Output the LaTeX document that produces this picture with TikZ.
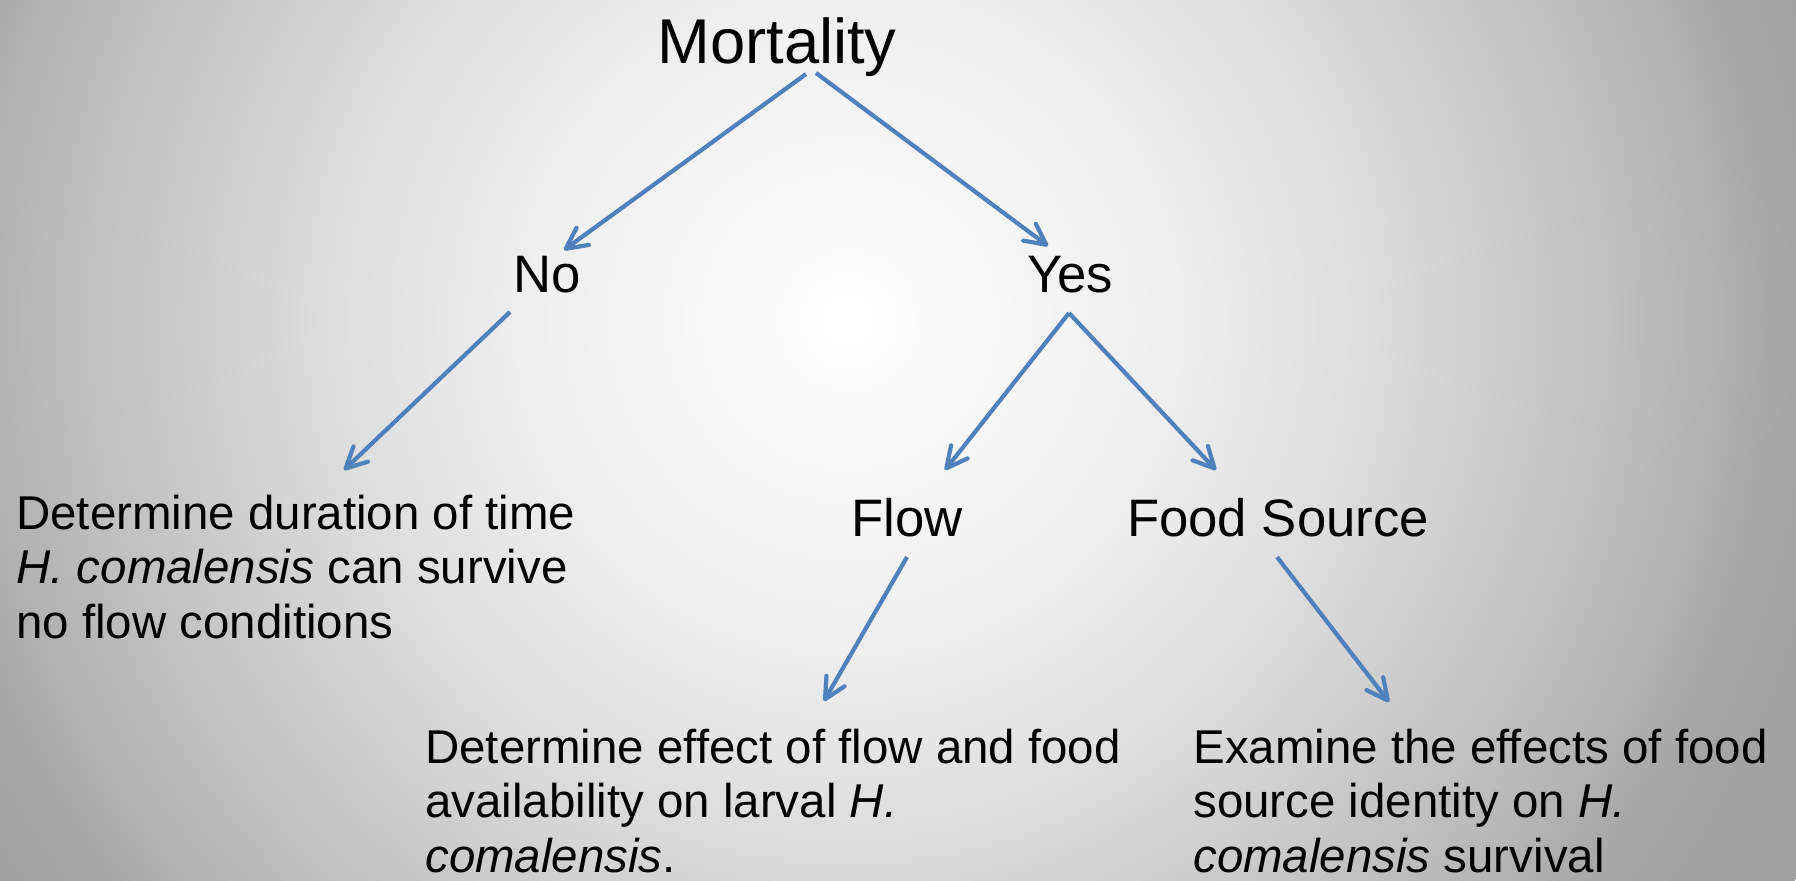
\documentclass[tikz,border=0pt]{standalone}
\usepackage{fontspec}
\setmainfont{Liberation Sans}
\usetikzlibrary{arrows.meta}

\definecolor{linkblue}{RGB}{79,129,189}
\definecolor{bgA}{RGB}{238,238,238}
\definecolor{bgB}{RGB}{220,220,220}
\definecolor{bgC}{RGB}{188,188,188}
\definecolor{bgD}{RGB}{165,165,165}
\definecolor{bgE}{RGB}{160,160,160}
\pgfdeclareradialshading{bgglow}{\pgfpoint{0bp}{0bp}}{color(0bp)=(white); color(7.5bp)=(bgA); color(12bp)=(bgB); color(18bp)=(bgC); color(21.5bp)=(bgD); color(25bp)=(bgE); color(50bp)=(bgE)}

\begin{document}
\begin{tikzpicture}[
    >={Straight Barb[round, length=0.42cm, width=0.42cm]},
    topic/.style={inner sep=0pt, anchor=base, font=\fontsize{36}{43}\selectfont},
    branch/.style={inner sep=0pt, anchor=base, font=\fontsize{30}{36}\selectfont},
    aim/.style={inner sep=0pt, anchor=north west, align=left, font=\fontsize{27}{31}\selectfont},
    link/.style={->, draw=linkblue, line width=2.4pt}
]
    % Фон
    \useasboundingbox (0, 0) rectangle (35.92, -17.6);
    \begin{scope}
        \clip (0, 0) rectangle (35.92, -17.6);
        \shade[shading=bgglow] (16.96, -6.4) circle (22);
    \end{scope}

    % Уровень 0
    \node[topic] (mort) at (15.54, -1.26) {Mortality};

    % Уровень 1
    \node[branch] (no)  at (10.94, -5.84) {No};
    \node[branch] (yes) at (21.40, -5.84) {Yes};

    % Уровень 2
    \node[branch] (flow) at (18.14, -10.72) {Flow};
    \node[branch] (food) at (25.56, -10.72) {Food Source};

    % Задачи
    \node[aim] (survive) at (0.32, -9.89)
        {Determine duration of time\\\textit{H. comalensis} can survive\\no flow conditions};
    \node[aim] (larval) at (8.50, -14.57)
        {Determine effect of flow and food\\availability on larval \textit{H.}\\\textit{comalensis}.};
    \node[aim] (identity) at (23.86, -14.57)
        {Examine the effects of food\\source identity on \textit{H.}\\\textit{comalensis} survival};

    % Стрелки
    \draw[link] ([shift={(0.58,-0.22)}]mort.base) -- ([shift={(0.34,0.84)}]no.base);
    \draw[link] ([shift={(0.78,-0.20)}]mort.base) -- ([shift={(-0.44,0.92)}]yes.base);
    \draw[link] ([shift={(-0.74,-0.40)}]no.base) -- ([shift={(6.56,0.49)}]survive.north west);
    \draw[link] ([shift={(-0.02,-0.42)}]yes.base) -- ([shift={(0.76,1.32)}]flow.base);
    \draw[link] ([shift={(-0.02,-0.42)}]yes.base) -- ([shift={(-1.24,1.32)}]food.base);
    \draw[link] ([shift={(0,-0.42)}]flow.base) -- ([shift={(7.98,0.55)}]larval.north west);
    \draw[link] ([shift={(-0.02,-0.42)}]food.base) -- ([shift={(3.92,0.53)}]identity.north west);
\end{tikzpicture}
\end{document}
